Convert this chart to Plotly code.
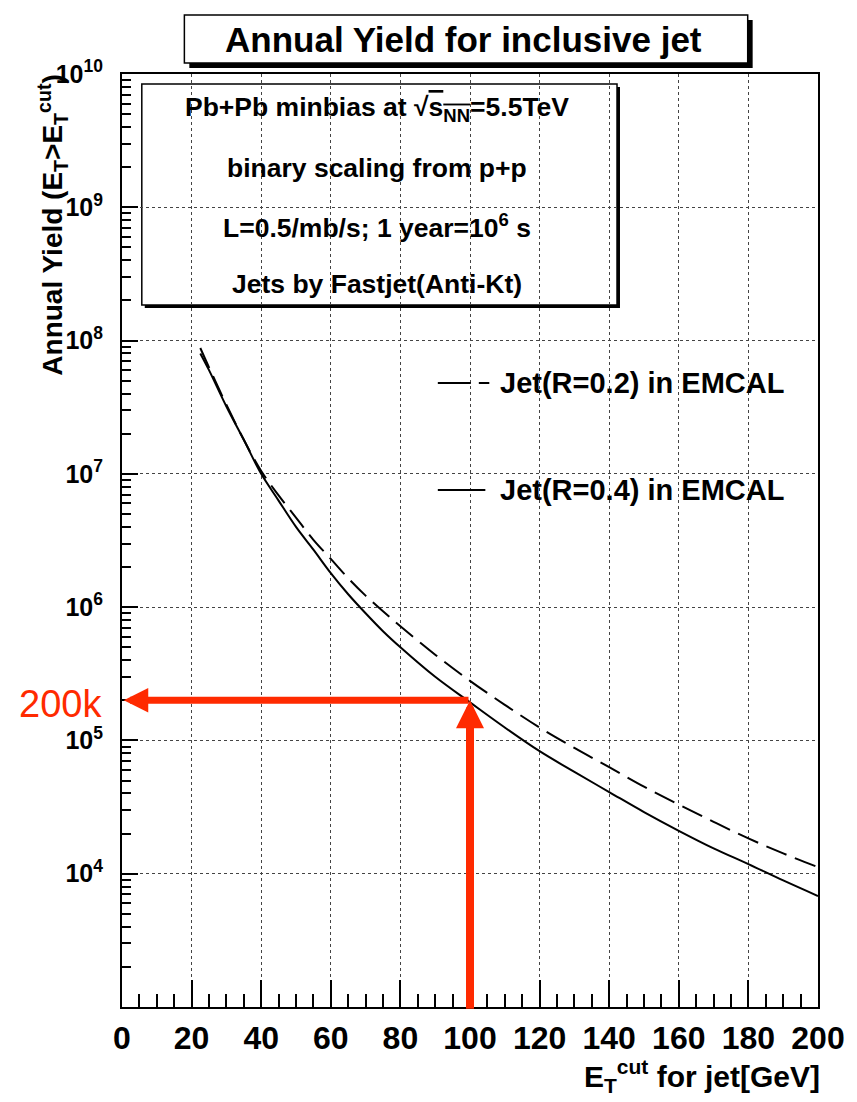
import plotly.graph_objects as go
import math

# ---------------- data ----------------
et_cut = [22.5, 25, 30, 35, 40, 45, 50, 55, 60, 65, 70, 75, 80, 90, 100, 110, 120,
          130, 140, 150, 160, 170, 180, 190, 200]
yield_r04 = [8.0e7, 6.0e7, 3.2e7, 1.8e7, 1.0e7, 6.3e6, 4.0e6, 2.7e6, 1.8e6, 1.25e6,
             9.0e5, 6.6e5, 5.0e5, 3.0e5, 1.93e5, 1.25e5, 8.3e4, 5.8e4, 4.1e4, 2.9e4,
             2.1e4, 1.55e4, 1.18e4, 8.9e3, 6.8e3]
yield_r02 = [8.8e7, 6.3e7, 3.3e7, 1.8e7, 1.05e7, 6.9e6, 4.7e6, 3.2e6, 2.3e6, 1.65e6,
             1.22e6, 9.3e5, 7.2e5, 4.4e5, 2.8e5, 1.85e5, 1.25e5, 8.8e4, 6.3e4, 4.5e4,
             3.3e4, 2.45e4, 1.84e4, 1.42e4, 1.12e4]
series_names = ["Jet(R=0.2) in EMCAL", "Jet(R=0.4) in EMCAL"]
x_ticks = list(range(0, 201, 20))
y_tick_exps = [4, 5, 6, 7, 8, 9, 10]
marked_x = 100
marked_y = 2e5
marked_label = "200k"

# ---------------- layout helpers ----------------
W, H = 857, 1102
L, R, T, B = 122, 32, 74, 95
PW, PH = W - L - R, H - T - B


def px(x):
    return (x - L) / PW


def py(y):
    return (H - B - y) / PH


FONT = "Liberation Sans, Arial, Helvetica, sans-serif"
RED = "#FF2A00"

fig = go.Figure()
fig.add_trace(go.Scatter(x=et_cut, y=yield_r02, mode="lines", name=series_names[0],
                         line=dict(color="black", width=2, dash="22px,9px", shape="spline"),
                         showlegend=False))
fig.add_trace(go.Scatter(x=et_cut, y=yield_r04, mode="lines", name=series_names[1],
                         line=dict(color="black", width=2, shape="spline"),
                         showlegend=False))

shapes = []
# legend white background (covers grid)
shapes.append(dict(type="rect", xref="paper", yref="paper", x0=px(427), x1=px(738),
                   y0=py(543), y1=py(332), fillcolor="white", line=dict(width=0),
                   layer="between"))
# info box shadow + box
shapes.append(dict(type="rect", xref="paper", yref="paper", x0=px(145), x1=px(625),
                   y0=py(308), y1=py(87), fillcolor="black", line=dict(width=0),
                   layer="between"))
shapes.append(dict(type="rect", xref="paper", yref="paper", x0=px(142), x1=px(622),
                   y0=py(305), y1=py(84), fillcolor="white",
                   line=dict(color="black", width=1.5), layer="between"))
# title box shadow + box
shapes.append(dict(type="rect", xref="paper", yref="paper", x0=px(190), x1=px(759),
                   y0=py(68), y1=py(20), fillcolor="black", line=dict(width=0),
                   layer="above"))
shapes.append(dict(type="rect", xref="paper", yref="paper", x0=px(185), x1=px(754),
                   y0=py(63), y1=py(15), fillcolor="white",
                   line=dict(color="black", width=1.5), layer="above"))
# legend line samples
shapes.append(dict(type="line", xref="paper", yref="paper", x0=px(441), x1=px(493),
                   y0=py(383), y1=py(383), line=dict(color="black", width=2,
                   dash="33px,8px,11px,200px"), layer="above"))
shapes.append(dict(type="line", xref="paper", yref="paper", x0=px(441), x1=px(489),
                   y0=py(490), y1=py(490), line=dict(color="black", width=2),
                   layer="above"))

ann = []
ann.append(dict(text="<b>Annual Yield for inclusive jet</b>", xref="paper", yref="paper",
                x=px(467), y=py(39), xanchor="center", yanchor="middle",
                showarrow=False, font=dict(size=35, color="black")))
info_lines = [
    "<b>Pb+Pb minbias at √<span style='text-decoration:overline'>s<sub>NN</sub></span>=5.5TeV</b>",
    "<b>binary scaling from p+p</b>",
    "<b>L=0.5/mb/s; 1 year=10<sup>6</sup> s</b>",
    "<b>Jets by Fastjet(Anti-Kt)</b>",
]
for t, yy in zip(info_lines, [109, 168, 226, 284]):
    ann.append(dict(text=t, xref="paper", yref="paper", x=px(380), y=py(yy),
                    xanchor="center", yanchor="middle", showarrow=False,
                    font=dict(size=26.5, color="black")))
for name, yy in zip(series_names, [383, 490]):
    ann.append(dict(text="<b>" + name + "</b>", xref="paper", yref="paper", x=px(502),
                    y=py(yy), xanchor="left", yanchor="middle", showarrow=False,
                    font=dict(size=29, color="black")))
# axis titles
ann.append(dict(text="<b>E<sub>T</sub><sup>cut</sup> for jet[GeV]</b>", xref="paper",
                yref="paper", x=px(829), y=py(1076), xanchor="right", yanchor="middle",
                showarrow=False, font=dict(size=30, color="black")))
ann.append(dict(text="<b>Annual Yield (E<sub>T</sub>>E<sub>T</sub><sup>cut</sup>)</b>",
                xref="paper", yref="paper", x=px(52), y=py(72), textangle=-90,
                xanchor="center", yanchor="top", showarrow=False,
                font=dict(size=28, color="black")))
# red arrows
ly = math.log10(marked_y)
ann.append(dict(text="", x=marked_x, y=ly, xref="x", yref="y", ax=marked_x, ay=2.975,
                axref="x", ayref="y", showarrow=True, arrowhead=2, arrowsize=0.7,
                arrowwidth=8, arrowcolor=RED, standoff=0))
ann.append(dict(text="", x=0.5, y=ly, xref="x", yref="y", ax=marked_x, ay=ly,
                axref="x", ayref="y", showarrow=True, arrowhead=2, arrowsize=0.7,
                arrowwidth=7, arrowcolor=RED, standoff=0))
ann.append(dict(text=marked_label, xref="paper", yref="paper", x=px(60), y=py(704),
                xanchor="center", yanchor="middle", showarrow=False,
                font=dict(size=38, color=RED)))

minor_y = [m * 10 ** e for e in range(3, 10) for m in range(2, 10)]

fig.update_layout(
    width=W, height=H, margin=dict(l=L, r=R, t=T, b=B),
    paper_bgcolor="white", plot_bgcolor="white",
    font=dict(family=FONT, color="black"),
    shapes=shapes, annotations=ann,
    xaxis=dict(range=[0, 200], tickvals=x_ticks, ticktext=[str(v) for v in x_ticks],
               tickfont=dict(size=32, weight="bold"), ticks="inside", ticklen=27,
               tickwidth=2, tickcolor="black", showline=True, linewidth=2,
               linecolor="black", mirror=True, showgrid=True, gridcolor="#444",
               griddash="dot", gridwidth=1, zeroline=False, ticklabelstandoff=2,
               minor=dict(dtick=5, ticks="inside", ticklen=13, tickwidth=2,
                          tickcolor="black", showgrid=False)),
    yaxis=dict(type="log", range=[3, 10],
               tickvals=[10 ** e for e in y_tick_exps],
               ticktext=["10<sup>%d</sup>" % e for e in y_tick_exps],
               tickfont=dict(size=25, weight="bold"), ticks="inside", ticklen=16,
               tickwidth=2, tickcolor="black", showline=True, linewidth=2,
               linecolor="black", mirror=True, showgrid=True, gridcolor="#444",
               griddash="dot", gridwidth=1, zeroline=False, ticklabelstandoff=12,
               minor=dict(tickvals=minor_y, ticks="inside", ticklen=9, tickwidth=2,
                          tickcolor="black", showgrid=False)),
)

fig.write_html("out.html")
